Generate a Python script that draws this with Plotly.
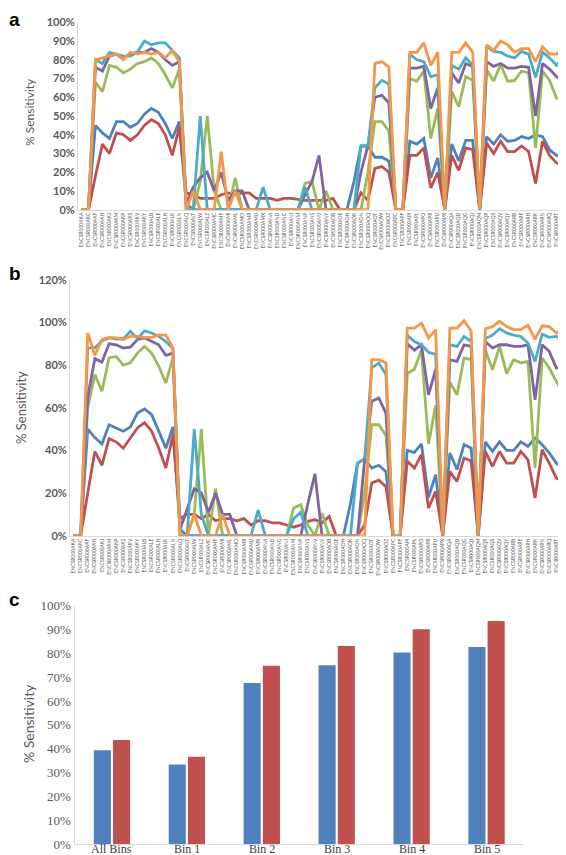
import plotly.graph_objects as go

W, H = 566, 855

gene_ids = [
    "ENCSR000AKA", "ENCSR000AKC", "ENCSR000AKF", "ENCSR000AKH", "ENCSR000AKJ",
    "ENCSR000AKM", "ENCSR000AKP", "ENCSR000AKS", "ENCSR000AKV", "ENCSR000AKY",
    "ENCSR000ALB", "ENCSR000ALE", "ENCSR000ALH", "ENCSR000ALK", "ENCSR000ALN",
    "ENCSR000ALQ", "ENCSR000ALT", "ENCSR000ALW", "ENCSR000ALZ", "ENCSR000AMC",
    "ENCSR000AMF", "ENCSR000AMI", "ENCSR000AML", "ENCSR000AMO", "ENCSR000AMR",
    "ENCSR000AMU", "ENCSR000AMX", "ENCSR000ANA", "ENCSR000AND", "ENCSR000ANG",
    "ENCSR000ANJ", "ENCSR000ANM", "ENCSR000ANP", "ENCSR000ANS", "ENCSR000ANV",
    "ENCSR000ANY", "ENCSR000AOB", "ENCSR000AOE", "ENCSR000AOH", "ENCSR000AOK",
    "ENCSR000AON", "ENCSR000AOQ", "ENCSR000AOT", "ENCSR000AOW", "ENCSR000AOZ",
    "ENCSR000APC", "ENCSR000APF", "ENCSR000API", "ENCSR000APL", "ENCSR000APO",
    "ENCSR000APR", "ENCSR000APU", "ENCSR000APX", "ENCSR000AQA", "ENCSR000AQD",
    "ENCSR000AQG", "ENCSR000AQJ", "ENCSR000AQM", "ENCSR000AQP", "ENCSR000AQS",
    "ENCSR000AQV", "ENCSR000AQY", "ENCSR000ARB", "ENCSR000ARE", "ENCSR000ARH",
    "ENCSR000ARK", "ENCSR000ARN", "ENCSR000ARQ", "ENCSR000ART", "ENCSR000ARW",
]

# ---------------- panel a ----------------
a_blue = [0, 0, 45, 41, 38, 47, 47, 44, 46, 51, 54, 52, 46, 38, 47,
          3, 0, 0, 0, 0, 0, 0, 0, 0, 0, 0, 0, 0, 0, 0,
          0, 0, 0, 0, 0, 0, 0, 0, 0, 15, 34, 34, 28, 28, 26,
          0, 0, 36.5, 35, 38, 17, 27.6, 0, 35, 26, 37, 37, 0,
          39, 35, 40, 36.5, 37, 39, 38, 40, 39, 32, 29, 28.5]
a_red = [0, 0, 18, 35, 30, 41, 40, 37, 40, 45, 48, 46, 40, 29, 44,
         9, 8, 6, 6, 6, 8, 9, 8, 9, 9, 6, 6, 6, 5, 6,
         6, 5.5, 5, 5, 5, 5, 6, 0, 0, 0, 9, 5, 22, 23, 20,
         0, 0, 29, 29, 33, 11.6, 20, 0, 29, 21, 33, 32, 0,
         35.6, 30, 36.5, 31, 31, 34, 31, 14, 36.5, 29, 25, 24]
a_green = [0, 0, 68, 63, 77, 76, 73, 75, 78, 79, 81, 78, 72, 65, 75,
           0, 0, 15, 50, 10, 0, 0, 17, 0, 0, 0, 0, 0, 0, 0,
           0, 0, 14, 15, 0, 10, 0, 0, 0, 0, 0, 20, 47, 47, 42,
           0, 0, 70, 68.5, 74, 38, 54, 0, 63, 55, 71, 69, 0,
           74.7, 68.5, 77.4, 68.5, 69, 74, 73, 33, 74, 69, 59.6, 59.6]
a_purple = [0, 0, 76, 74, 82, 83, 81, 83, 84, 84, 86, 84, 80, 77, 79,
            3, 12, 17, 20, 10, 20, 5, 10, 10, 0, 0, 0, 0, 0, 0,
            0, 0, 8, 15, 29, 0, 0, 0, 0, 0, 20, 34, 60, 61, 57,
            0, 0, 75.6, 75.6, 76.5, 54, 65, 0, 73, 67.6, 78, 76.5, 0,
            79, 76.5, 78, 75.6, 75.6, 76.5, 76, 50, 78, 75, 71, 68.5]
a_cyan = [0, 0, 80, 78, 84, 83, 82, 82, 84, 90, 88, 89, 89, 85, 81,
          0, 0, 50, 0, 0, 0, 0, 0, 0, 0, 0, 12, 0, 0, 0,
          0, 0, 12, 0, 0, 0, 0, 0, 0, 0, 34, 34, 65, 69, 67,
          0, 0, 83, 80, 79, 71, 72, 0, 77, 75, 81, 77, 0,
          87, 84.5, 84, 82, 81, 84.5, 83, 70.6, 84, 81, 77, 82]
a_orange = [0, 0, 80, 81, 82, 83, 80, 84, 83, 84, 83, 84, 81, 85, 79,
            0, 10, 0, 0, 0, 31, 0, 10, 0, 0, 0, 0, 0, 0, 0,
            0, 0, 0, 0, 0, 0, 0, 0, 0, 0, 0, 0, 78, 79, 76,
            0, 0, 84, 84, 89, 77, 84, 0, 84, 84, 89, 84, 0,
            88, 85, 90, 88, 84, 86, 86, 79, 87, 83, 83, 87]

# ---------------- panel b ----------------
b_blue = [0, 0, 50, 46, 43, 52, 50.5, 49, 51, 57.5, 59.4, 56.7, 49, 41, 51,
          3, 0, 0, 0, 0, 0, 0, 0, 0, 0, 0, 0, 0, 0, 0,
          0, 0, 0, 0, 0, 0, 0, 0, 0, 15, 34, 36, 31.7, 33, 30,
          0, 0, 40, 39, 43, 18, 28.6, 0, 38.8, 31, 42.7, 41, 0,
          44, 39.5, 44, 40, 40, 44, 41.9, 45.8, 42.7, 38.8, 34, 31.7]
b_red = [0, 0, 20, 39.5, 33, 45.5, 44, 41, 45.8, 50.5, 53, 49, 41, 31.7, 47.3,
         8, 10, 10, 8, 10, 7, 8, 8, 7, 8, 5, 7, 7, 6, 6,
         5, 4, 5, 6.7, 7.5, 6, 9, 0, 0, 0, 0, 5, 24.7, 26, 23,
         0, 0, 35, 31.7, 38, 13, 20.8, 0, 30, 25.5, 36.4, 35, 0,
         39.5, 32.5, 39.5, 34, 34, 39.5, 35.6, 17.7, 40.3, 34, 27, 25.5]
b_green = [0, 0, 60, 75.5, 67.7, 83.3, 84, 80, 81, 85.6, 88.7, 85.6, 79.4, 71.6, 83.3,
           0, 0, 10, 50, 0, 22, 0, 0, 0, 0, 0, 0, 0, 0, 0,
           0, 13, 14.5, 5, 0, 10.6, 0, 0, 0, 0, 0, 20, 52, 52, 47,
           0, 0, 76, 78, 87, 43, 61, 0, 72, 66, 83.3, 82.5, 0,
           87, 77.8, 88.7, 76, 82.5, 81, 81.7, 31.7, 83.3, 78.6, 72, 66]
b_purple = [0, 0, 65, 83, 81.4, 90, 89.5, 88, 88.4, 92, 92.7, 91, 89.5, 84.5, 85.6,
            3, 12, 22, 20, 11, 20, 10, 10, 0, 0, 0, 0, 0, 0, 0,
            0, 0, 0, 15, 29, 0, 0, 0, 0, 0, 0, 35.6, 63, 64.5, 57.5,
            0, 0, 90, 87, 89.5, 66, 78, 0, 82.5, 81.7, 89.5, 88.7, 0,
            91, 88, 89.5, 89.5, 88.7, 88.7, 89.5, 63.7, 89.5, 86.4, 78.6, 79.4]
b_cyan = [0, 0, 88, 88, 91.4, 92.7, 92.2, 92.2, 95.8, 92.4, 96, 95, 93.4, 91, 87.7,
          0, 0, 50, 10, 0, 0, 0, 0, 0, 0, 0, 12, 0, 0, 0,
          0, 8, 11, 0, 0, 0, 0, 0, 0, 0, 34, 36, 78.6, 81, 75.5,
          0, 0, 94, 91, 89.5, 86, 85, 0, 89.5, 88.7, 93.4, 91, 0,
          92.5, 94, 97, 95, 94, 93.4, 90.3, 81.7, 94.5, 93, 93.4, 91.4]
b_orange = [0, 0, 95, 84.5, 92, 93, 92.7, 92, 93.4, 93.4, 93, 93, 94, 94, 88,
            0, 0, 10, 0, 0, 0, 10, 0, 0, 0, 0, 0, 0, 0, 0,
            0, 0, 0, 0, 0, 0, 0, 0, 0, 0, 0, 0, 82.5, 82.5, 81,
            0, 0, 97.3, 97.3, 99.7, 92.7, 96.6, 0, 97.3, 97.3, 100.8, 96, 0,
            97, 98, 100.5, 98, 96.6, 96.6, 98.6, 92, 98.4, 98, 95, 97.7]

# ---------------- panel c ----------------
bins = ["All Bins", "Bin 1", "Bin 2", "Bin 3", "Bin 4", "Bin 5"]
c_blue = [39.3, 33.4, 67.6, 75.0, 80.4, 82.7]
c_red = [43.6, 36.6, 74.8, 83.1, 90.1, 93.6]

palette = ["#4F81BD", "#C0504D", "#9BBB59", "#8064A2", "#4BACC6", "#F79646"]
a_series = [a_blue, a_red, a_green, a_purple, a_cyan, a_orange]
b_series = [b_blue, b_red, b_green, b_purple, b_cyan, b_orange]

fig = go.Figure()
for vals, col in zip(a_series, palette):
    fig.add_trace(go.Scatter(x=gene_ids, y=vals, mode="lines",
                             line=dict(color=col, width=2.8),
                             xaxis="x", yaxis="y", showlegend=False))
for vals, col in zip(b_series, palette):
    fig.add_trace(go.Scatter(x=gene_ids, y=vals, mode="lines",
                             line=dict(color=col, width=2.8),
                             xaxis="x2", yaxis="y2", showlegend=False))
fig.add_trace(go.Bar(x=bins, y=c_blue, marker=dict(color="#4F81BD", line=dict(width=0)),
                     xaxis="x3", yaxis="y3", showlegend=False))
fig.add_trace(go.Bar(x=bins, y=c_red, marker=dict(color="#C0504D", line=dict(width=0)),
                     xaxis="x3", yaxis="y3", showlegend=False))


def px_x(p):
    return p / W


def px_y(p):
    return 1 - p / H


grey = "#595959"
axisline = "#D9D9D9"
sans = "Lato, 'Open Sans', sans-serif"
serif = "'Liberation Serif', 'DejaVu Serif', serif"

cat_x = dict(type="category", range=[-0.5, len(gene_ids) - 0.5], showgrid=False,
             showline=True, linecolor=axisline, linewidth=1, ticks="", ticklen=0,
             tickangle=-90, tickfont=dict(family=sans, size=5, color=grey),
             automargin=False, fixedrange=True)

ytick = dict(family=sans, size=11, color=grey, weight="bold")

fig.update_layout(
    width=W, height=H, margin=dict(l=0, r=0, t=0, b=0),
    paper_bgcolor="white", plot_bgcolor="white",
    bargap=0.487, bargroupgap=0.11, barmode="group",
    xaxis=dict(cat_x, domain=[px_x(70), px_x(559)], anchor="y"),
    yaxis=dict(domain=[px_y(201.7), px_y(14.3)], range=[0, 100], dtick=10,
               ticksuffix="%", showgrid=False, showline=True, linecolor=axisline,
               zeroline=False, ticks="", anchor="x", tickfont=ytick, automargin=False),
    xaxis2=dict(cat_x, domain=[px_x(62), px_x(559)], anchor="y2"),
    yaxis2=dict(domain=[px_y(527.7), px_y(271.7)], range=[0, 120], dtick=20,
                ticksuffix="%", showgrid=False, showline=True, linecolor=axisline,
                zeroline=False, ticks="", anchor="x2", tickfont=ytick, automargin=False),
    xaxis3=dict(type="category", domain=[px_x(66.5), px_x(516)], anchor="y3",
                showgrid=False, showline=True, linecolor=axisline, ticks="",
                showticklabels=False, automargin=False),
    yaxis3=dict(domain=[px_y(836), px_y(597.7)], range=[0, 100], dtick=10,
                ticksuffix="%", showgrid=False, showline=True, linecolor=axisline,
                zeroline=False, ticks="", anchor="x3",
                tickfont=dict(family=serif, size=13, color=grey), automargin=False),
)

annotations = [
    dict(text="<b>a</b>", x=0, y=1, xanchor="left", yanchor="top",
         xref="paper", yref="paper", borderpad=0,
         font=dict(family="Liberation Sans, Arial", size=19, color="black")),
    dict(text="<b>b</b>", x=0, y=px_y(254), xanchor="left", yanchor="top",
         xref="paper", yref="paper", borderpad=0,
         font=dict(family="Liberation Sans, Arial", size=19, color="black")),
    dict(text="<b>c</b>", x=0, y=px_y(580), xanchor="left", yanchor="top",
         xref="paper", yref="paper", borderpad=0,
         font=dict(family="Liberation Sans, Arial", size=19, color="black")),
    dict(text="% Sensitivity", x=px_x(22), y=px_y(104), textangle=-90,
         xanchor="center", yanchor="middle", xref="paper", yref="paper",
         font=dict(family=sans, size=12, color=grey)),
    dict(text="% Sensitivity", x=px_x(13), y=px_y(400), textangle=-90,
         xanchor="center", yanchor="middle", xref="paper", yref="paper",
         font=dict(family=sans, size=13, color=grey)),
    dict(text="% Sensitivity", x=px_x(20), y=px_y(716), textangle=-90,
         xanchor="center", yanchor="middle", xref="paper", yref="paper",
         font=dict(family=sans, size=14, color=grey)),
]
for b in bins:
    annotations.append(dict(text=b, x=b, xref="x3", y=px_y(849), yref="paper",
                            xanchor="center", yanchor="bottom", borderpad=0,
                            font=dict(family=serif, size=12, color="#404040")))
for an in annotations:
    an.update(showarrow=False)
fig.update_layout(annotations=annotations)

fig.write_html("out.html")
